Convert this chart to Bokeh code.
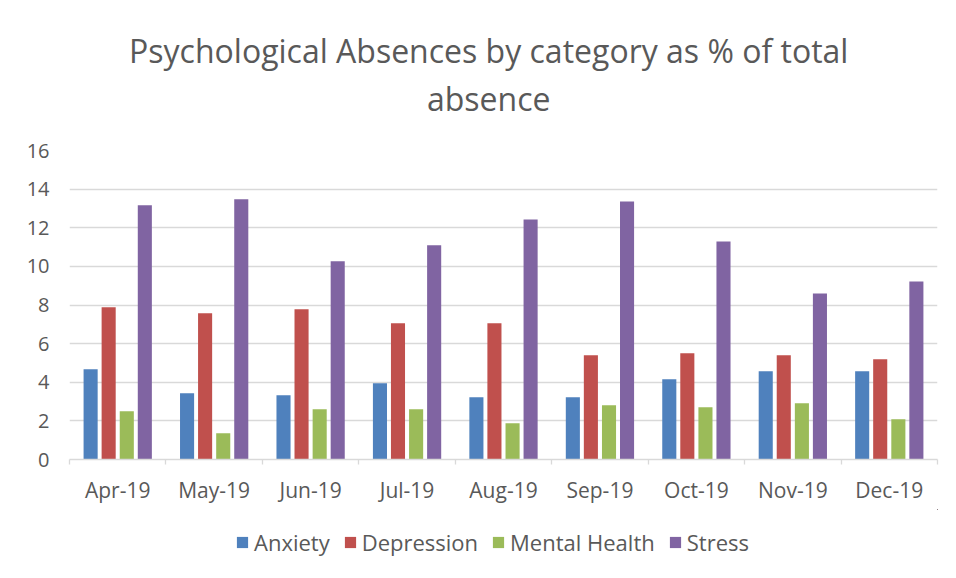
from bokeh.plotting import figure
from bokeh.layouts import column
from bokeh.models import (ColumnDataSource, Range1d, LinearAxis, FixedTicker, Legend,
                          LegendItem, Label)
from bokeh.transform import dodge
from bokeh.embed import file_html
from bokeh.resources import INLINE

months = ["Apr-19", "May-19", "Jun-19", "Jul-19", "Aug-19", "Sep-19", "Oct-19", "Nov-19", "Dec-19"]
anxiety = [4.67, 3.43, 3.33, 3.95, 3.22, 3.22, 4.16, 4.57, 4.57]
depression = [7.88, 7.57, 7.78, 7.05, 7.05, 5.40, 5.50, 5.40, 5.19]
mental_health = [2.50, 1.36, 2.60, 2.60, 1.88, 2.81, 2.71, 2.91, 2.09]
stress = [13.16, 13.47, 10.26, 11.09, 12.43, 13.36, 11.29, 8.60, 9.22]
series_names = ["Anxiety", "Depression", "Mental Health", "Stress"]
colors = ["#4F81BD", "#C0504D", "#9BBB59", "#8064A2"]
y_ticks = [0, 2, 4, 6, 8, 10, 12, 14, 16]
title_lines = ["Psychological Absences by category as % of total", "absence"]

n = len(months)
centers = [i + 0.5 for i in range(n)]
src = ColumnDataSource(dict(pos=centers, month=months, Anxiety=anxiety, Depression=depression,
                            MentalHealth=mental_health, Stress=stress))
cols = ["Anxiety", "Depression", "MentalHealth", "Stress"]
offsets = [-0.281, -0.094, 0.094, 0.281]

TXT = "#595959"
GRID = "#D9D9D9"
FONT = "Open Sans"
W = 948


def blank(fig):
    fig.outline_line_color = None
    fig.grid.grid_line_color = None
    fig.background_fill_color = "white"
    fig.border_fill_color = "white"


# ---- title strip ----
tt = figure(width=W, height=138, x_range=Range1d(0, 1), y_range=Range1d(0, 1),
            output_backend="svg", toolbar_location=None, x_axis_location=None,
            y_axis_location=None, min_border=0)
blank(tt)
for txt, yy in zip(title_lines, [0.637, 0.287]):
    tt.add_layout(Label(x=0.483, y=yy, text=txt, text_align="center",
                        text_baseline="alphabetic", text_font=FONT, text_font_size="32px",
                        text_color=TXT))

# ---- main chart ----
p = figure(frame_width=868, frame_height=309, x_range=Range1d(0, n), y_range=Range1d(0, 16),
           output_backend="svg", toolbar_location=None, x_axis_location=None,
           min_border_left=69, min_border_right=W - 69 - 868, min_border_top=12,
           min_border_bottom=50)
blank(p)

for c, col, off in zip(cols, colors, offsets):
    p.vbar(x=dodge("pos", off), top=c, width=0.146, source=src, fill_color=col, line_color=None)

p.yaxis.ticker = FixedTicker(ticks=y_ticks)
p.yaxis.axis_line_color = None
p.yaxis.major_tick_line_color = None
p.yaxis.minor_tick_line_color = None
p.yaxis.major_label_text_font = FONT
p.yaxis.major_label_text_font_size = "20px"
p.yaxis.major_label_text_color = TXT
p.yaxis.major_label_standoff = 14

p.ygrid.grid_line_color = GRID
p.ygrid.grid_line_width = 1.3
p.ygrid.ticker = FixedTicker(ticks=y_ticks)

bounds = list(range(n + 1))
tick_axis = LinearAxis(ticker=FixedTicker(ticks=bounds, minor_ticks=[]),
                       major_label_overrides={b: "" for b in bounds},
                       major_label_text_font_size="1px", major_label_standoff=0,
                       major_tick_in=0, major_tick_out=5, axis_line_color=GRID,
                       axis_line_width=1.3, major_tick_line_color=GRID,
                       major_tick_line_width=1.3, minor_tick_line_color=None)
p.add_layout(tick_axis, "below")

label_axis = LinearAxis(ticker=FixedTicker(ticks=centers, minor_ticks=[]),
                        major_label_overrides={c: m for c, m in zip(centers, months)},
                        axis_line_color=None, major_tick_line_color=None,
                        minor_tick_line_color=None, major_label_text_font=FONT,
                        major_label_text_font_size="21px", major_label_text_color=TXT,
                        major_label_standoff=5)
p.add_layout(label_axis, "below")

# ---- legend strip (same series, drawn out of view so only the legend shows) ----
lg = figure(width=W, height=61, x_range=Range1d(-100, -99), y_range=Range1d(-10, -9),
            output_backend="svg", toolbar_location=None, x_axis_location=None,
            y_axis_location=None, min_border=0)
blank(lg)
items = []
for c, name, col, off in zip(cols, series_names, colors, offsets):
    r = lg.vbar(x=dodge("pos", off), top=c, width=0.146, source=src, fill_color=col,
                line_color=None)
    items.append(LegendItem(label=name, renderers=[r]))
legend = Legend(items=items, orientation="horizontal", location=(166, 13),
                label_text_font=FONT, label_text_font_size="22px", label_text_color=TXT,
                glyph_width=14, glyph_height=14, label_standoff=5, spacing=13,
                border_line_color=None, background_fill_alpha=0, margin=0, padding=4)
lg.add_layout(legend)

layout = column(tt, p, lg, spacing=0)
open("out.html", "w").write(file_html(layout, INLINE))
